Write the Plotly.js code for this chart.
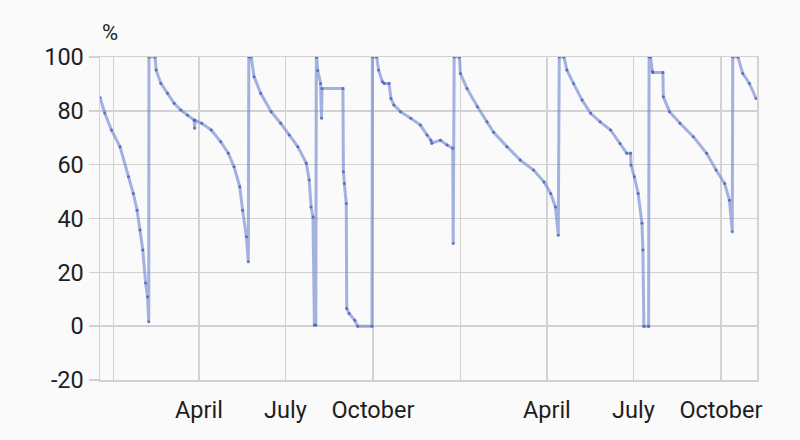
<!DOCTYPE html>
<html>
<head>
<meta charset="utf-8">
<script src="https://cdn.plot.ly/plotly-3.0.1.min.js"></script>
<style>html,body{margin:0;padding:0;background:#fafafa;}#chart{width:800px;height:440px;}</style>
</head>
<body>
<div id="chart"></div>
<script>
const dates = [
 "2018-12-18","2018-12-23","2018-12-30","2019-01-08","2019-01-17","2019-01-22","2019-01-26","2019-01-29",
 "2019-02-01","2019-02-04","2019-02-06","2019-02-07 06:00","2019-02-07 12:00","2019-02-14","2019-02-15","2019-02-20",
 "2019-02-27","2019-03-06","2019-03-13","2019-03-20","2019-03-27","2019-03-27 12:00","2019-03-28","2019-04-04",
 "2019-04-14","2019-04-24","2019-05-02","2019-05-08","2019-05-14","2019-05-17","2019-05-21","2019-05-23 00:00",
 "2019-05-23 12:00","2019-05-26","2019-05-29","2019-06-05","2019-06-16","2019-06-26","2019-07-05","2019-07-14",
 "2019-07-23","2019-07-26","2019-07-28","2019-07-30","2019-07-31 12:00","2019-08-02","2019-08-02 12:00","2019-08-03",
 "2019-08-04","2019-08-07","2019-08-08","2019-08-08 12:00","2019-08-30 12:00","2019-08-31","2019-09-01","2019-09-03",
 "2019-09-03 12:00","2019-09-06","2019-09-12","2019-09-15","2019-09-30","2019-09-30 12:00","2019-10-05","2019-10-07",
 "2019-10-11","2019-10-13","2019-10-18","2019-10-20","2019-10-23","2019-10-30","2019-11-10","2019-11-20",
 "2019-11-27","2019-12-01","2019-12-02","2019-12-11","2019-12-18","2019-12-24","2019-12-24 12:00","2019-12-25 12:00",
 "2019-12-31","2020-01-01","2020-01-08","2020-01-19","2020-01-29","2020-02-05","2020-02-19","2020-03-04",
 "2020-03-18","2020-03-29","2020-04-05","2020-04-10","2020-04-13","2020-04-14","2020-04-19","2020-04-22",
 "2020-04-29","2020-05-08","2020-05-17","2020-05-27","2020-06-07","2020-06-17","2020-06-24","2020-06-28",
 "2020-06-28 12:00","2020-07-02","2020-07-06","2020-07-10","2020-07-11","2020-07-12","2020-07-17","2020-07-17 12:00",
 "2020-07-19","2020-07-21","2020-07-21 12:00","2020-08-01","2020-08-01 12:00","2020-08-08","2020-08-19","2020-09-02",
 "2020-09-16","2020-09-26","2020-10-05","2020-10-10","2020-10-13","2020-10-13 12:00","2020-10-19","2020-10-24",
 "2020-10-31","2020-11-07"
];
const percent = [
 85,79.2,72.9,66.7,55.5,49.3,43.1,35.7,
 28.3,16,10.9,1.6,100,100,95.2,90.2,
 86.5,82.8,80.3,78.4,76.6,73.5,76.4,75.4,
 72.9,68.5,64.2,59.2,51.8,43.1,33.2,23.9,
 100,100,92.7,86.5,79.7,75.4,71.0,66.7,
 60.5,54.3,44.3,40.6,0.4,0.4,100,100,
 95,90.2,77.2,88.3,88.3,57.4,53,45.6,
 6.6,4.7,2.2,0,0,100,100,95.2,
 90.8,90.2,90.2,84.6,82.2,79.7,77.2,74.7,
 71.0,69.1,68,69.1,67.3,66.1,30.7,100,
 100,93.9,88.3,81.5,75.9,72,66.7,61.7,
 58.0,53.6,49.3,44.3,33.8,100,100,95.2,
 90.2,84.0,79.1,75.9,72.9,67.9,64.2,64.2,
 59.9,55.5,49.3,38.2,28.3,0,0,100,
 100,94.6,94.2,94.2,85.2,79.7,75.4,70.4,
 64.2,58.0,53.0,46.8,35.1,100,100,93.9,
 90.2,84.6
];
const tickDates = ["2019-01-01","2019-04-01","2019-07-01","2019-10-01","2020-01-01","2020-04-01","2020-07-01","2020-10-01"];
const tickLabels = ["","April","July","October","","April","July","October"];
const yTicks = [-20,0,20,40,60,80,100];
const yTickLabels = ["-20","0","20","40","60","80","100"];
const yUnit = "%";

const trace = {
  x: dates, y: percent, type: 'scatter', mode: 'lines+markers',
  line: {color: 'rgba(110,132,208,0.62)', width: 3},
  marker: {color: 'rgba(70,95,180,0.8)', size: 3},
  hoverinfo: 'x+y'
};
const grid = '#d2d2d2';
const layout = {
  width: 800, height: 440,
  margin: {l: 100, r: 43, t: 57, b: 60},
  paper_bgcolor: '#fafafa', plot_bgcolor: '#fafafa',
  showlegend: false,
  font: {family: 'Roboto, "Noto Sans", sans-serif', size: 23.5, color: '#1e1e1e'},
  xaxis: {
    type: 'date', range: ['2018-12-18', '2020-11-08'],
    tickmode: 'array', tickvals: tickDates, ticktext: tickLabels,
    showgrid: true, gridcolor: grid, gridwidth: 1.5,
    showline: true, mirror: true, linecolor: grid, linewidth: 1.5,
    ticks: '', ticklabelstandoff: 8, zeroline: false
  },
  yaxis: {
    range: [-20, 100], tickmode: 'array', tickvals: yTicks, ticktext: yTickLabels,
    showgrid: true, gridcolor: grid, gridwidth: 1.5,
    showline: true, mirror: true, linecolor: grid, linewidth: 1.5,
    ticks: 'outside', ticklen: 10, tickwidth: 1.5, tickcolor: grid,
    zeroline: false
  },
  annotations: [{
    text: yUnit, xref: 'paper', yref: 'paper', x: 0, y: 1,
    xanchor: 'left', yanchor: 'bottom', yshift: 10, showarrow: false,
    font: {size: 22, color: '#1e1e1e'}
  }]
};
Plotly.newPlot('chart', [trace], layout, {displayModeBar: false, staticPlot: true});
</script>
</body>
</html>
